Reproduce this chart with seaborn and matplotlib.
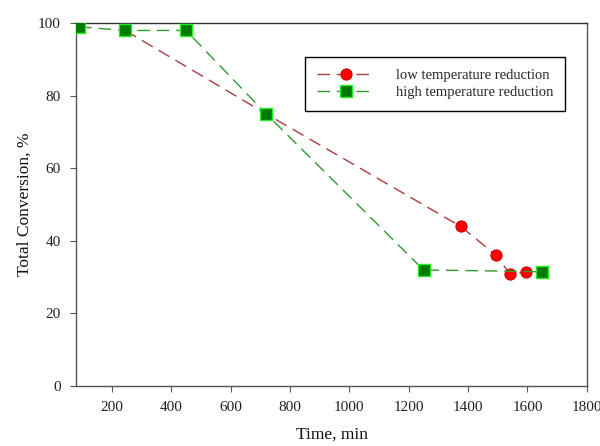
import matplotlib
matplotlib.use("Agg")
import matplotlib.pyplot as plt
import seaborn as sns
import pandas as pd

# Data
low_time = [245, 720, 1375, 1495, 1540, 1595]
low_conv = [98.0, 75.0, 44.0, 36.0, 31.0, 31.3]
high_time = [90, 245, 450, 720, 1250, 1650]
high_conv = [99.0, 98.0, 98.0, 75.0, 32.0, 31.5]
labels = ["low temperature reduction", "high temperature reduction"]
x_ticks = [200, 400, 600, 800, 1000, 1200, 1400, 1600, 1800]
y_ticks = [0, 20, 40, 60, 80, 100]

sns.set_style("ticks")
plt.rcParams['font.family'] = ['Liberation Serif', 'DejaVu Serif']

fig = plt.figure(figsize=(6.0, 4.46), dpi=100)
ax = fig.add_axes([0.127, 0.1345, 0.851, 0.8135])

df_low = pd.DataFrame({"t": low_time, "c": low_conv})
df_high = pd.DataFrame({"t": high_time, "c": high_conv})

sns.lineplot(data=df_low, x="t", y="c", ax=ax, color="#a83c3c", lw=1.0,
             dashes=False, linestyle=(0, (9, 5)), marker="o", markersize=8,
             markerfacecolor="#ff0000", markeredgecolor="#cc0000", markeredgewidth=0.8,
             label=labels[0], zorder=3)
sns.lineplot(data=df_high, x="t", y="c", ax=ax, color="#2e9a2e", lw=1.0,
             dashes=False, linestyle=(0, (9, 5)), marker="s", markersize=8,
             markerfacecolor="#007a00", markeredgecolor="#22ee22", markeredgewidth=1.0,
             label=labels[1], zorder=4)

ax.set_xlim(80, 1800)
ax.set_ylim(0, 100)
ax.set_xticks(x_ticks)
ax.set_yticks(y_ticks)
ax.tick_params(axis='both', direction='out', length=4, width=0.8, colors='#555555',
               labelcolor='#222222', labelsize=11, pad=7)
for s in ax.spines.values():
    s.set_visible(True)
    s.set_color('#555555')
    s.set_linewidth(1.0)
ax.spines['top'].set_color('#333333')

ax.set_xlabel("Time, min", fontsize=12.5, color='#111111', labelpad=9)
ax.set_ylabel("Total Conversion, %", fontsize=12.5, color='#111111', labelpad=4)

leg = ax.legend(loc='upper right', bbox_to_anchor=(0.957, 0.906), borderaxespad=0,
                fontsize=10.5, frameon=True, fancybox=False, framealpha=1,
                edgecolor='black', handlelength=4.0, borderpad=0.8,
                labelspacing=0.25, handletextpad=1.4)
leg.get_frame().set_linewidth(1.0)

fig.savefig("out.png", dpi=100)
